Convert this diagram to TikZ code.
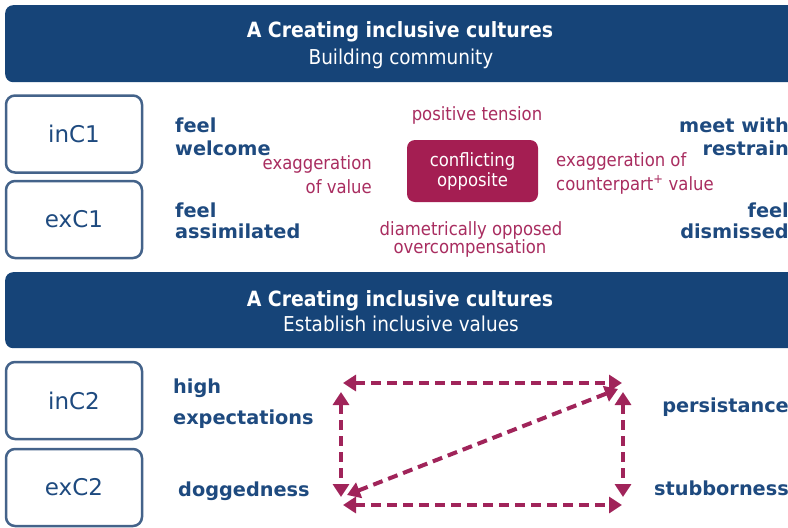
\documentclass[tikz,border=0pt]{standalone}
\usepackage{fontspec}
\setmainfont{DejaVu Sans}
\newfontfamily\condf{DejaVu Sans Condensed}[BoldFont={DejaVu Sans Condensed Bold}]
\usetikzlibrary{arrows.meta}
\definecolor{bannerblue}{HTML}{164478}
\definecolor{labblue}{HTML}{1E4A7F}
\definecolor{boxborder}{HTML}{44638A}
\definecolor{redtxt}{HTML}{A92D60}
\definecolor{confred}{HTML}{A41E52}
\definecolor{arrred}{HTML}{A0245A}
\begin{document}
\begin{tikzpicture}[x=1pt,y=-1pt,
  banner/.style={fill=bannerblue, rounded corners=8pt, inner sep=0pt, anchor=north west},
  btitle/.style={font=\condf\bfseries\fontsize{21}{24}\selectfont, text=white, inner sep=0pt, anchor=base},
  bsub/.style={font=\condf\fontsize{20.5}{24}\selectfont, text=white, inner sep=0pt, anchor=base},
  labbox/.style={draw=boxborder, line width=2.5pt, rounded corners=9pt, fill=white, text=labblue,
    font=\fontsize{23}{26}\selectfont, minimum width=136pt, minimum height=77pt, inner sep=0pt},
  bl/.style={font=\bfseries\fontsize{19.3}{23}\selectfont, text=labblue, inner sep=0pt},
  rd/.style={font=\condf\fontsize{18.3}{22}\selectfont, text=redtxt, inner sep=0pt},
  conf/.style={fill=confred, rounded corners=8pt, text=white, font=\condf\fontsize{18.3}{20}\selectfont,
    align=center, minimum width=131pt, minimum height=62pt, inner sep=0pt},
  darr/.style={draw=arrred, line width=4pt, dash pattern=on 10pt off 6pt,
    {Triangle[width=16pt,length=13pt]}-{Triangle[width=16pt,length=13pt]}}
]
\clip (0,0) rectangle (788,528);
\fill[white] (0,0) rectangle (788,528);

% banner 1
\node[banner, minimum width=800pt, minimum height=77pt] (ban1) at (5,5) {};
\node[btitle] (ban1t) at (400,37) {A Creating inclusive cultures};
\node[bsub] (ban1s) at (401,64) {Building community};

% boxes section 1
\node[labbox] (inC1) at (74,134) {inC1};
\node[labbox] (exC1) at (74,219.5) {exC1};

% labels section 1
\node[bl, anchor=base west] (fw1) at (175,132) {feel};
\node[bl, anchor=base west] (fw2) at (175,155) {welcome};
\node[rd, anchor=base east] (ev1) at (372,169) {exaggeration};
\node[rd, anchor=base east] (ev2) at (372,193) {of value};
\node[bl, anchor=base west] (fa1) at (175,217) {feel};
\node[bl, anchor=base west] (fa2) at (175,238) {assimilated};
\node[rd, anchor=base] (pt) at (477,120) {positive tension};
\node[conf] (co) at (472.5,171) {conflicting\\opposite};
\node[rd, anchor=base west] (ec1) at (556,166) {exaggeration of};
\node[rd, anchor=base west] (ec2) at (556,190) {counterpart\textsuperscript{+} value};
\node[rd, anchor=base] (dm1) at (471,235) {diametrically opposed};
\node[rd, anchor=base] (dm2) at (470,253) {overcompensation};
\node[bl, anchor=base east] (mw1) at (789,132) {meet with};
\node[bl, anchor=base east] (mw2) at (789,155) {restrain};
\node[bl, anchor=base east] (fd1) at (789,217) {feel};
\node[bl, anchor=base east] (fd2) at (789,238) {dismissed};

% banner 2
\node[banner, minimum width=800pt, minimum height=76pt] (ban2) at (5,272) {};
\node[btitle] (ban2t) at (400,306) {A Creating inclusive cultures};
\node[bsub] (ban2s) at (401,331) {Establish inclusive values};

% boxes section 2
\node[labbox] (inC2) at (74,400.5) {inC2};
\node[labbox] (exC2) at (74,487.5) {exC2};

% labels section 2
\node[bl, anchor=base west] (he1) at (173,393) {high};
\node[bl, anchor=base west] (he2) at (173,424) {expectations};
\node[bl, anchor=base west] (dg) at (178,496) {doggedness};
\node[bl, anchor=base east] (ps) at (789,412) {persistance};
\node[bl, anchor=base east] (sb) at (789,495) {stubborness};

% arrows
\coordinate (tA) at (343,383);
\coordinate (tB) at (622,383);
\coordinate (lA) at (341,392);
\coordinate (lB) at (341,497);
\coordinate (rA) at (623,392);
\coordinate (rB) at (623,497);
\coordinate (bA) at (343,505);
\coordinate (bB) at (622,505);
\coordinate (dA) at (347,495);
\coordinate (dB) at (618,389);
\draw[darr] (tA) -- (tB);
\draw[darr] (lA) -- (lB);
\draw[darr] (rA) -- (rB);
\draw[darr] (bA) -- (bB);
\draw[darr] (dA) -- (dB);
\end{tikzpicture}
\end{document}
